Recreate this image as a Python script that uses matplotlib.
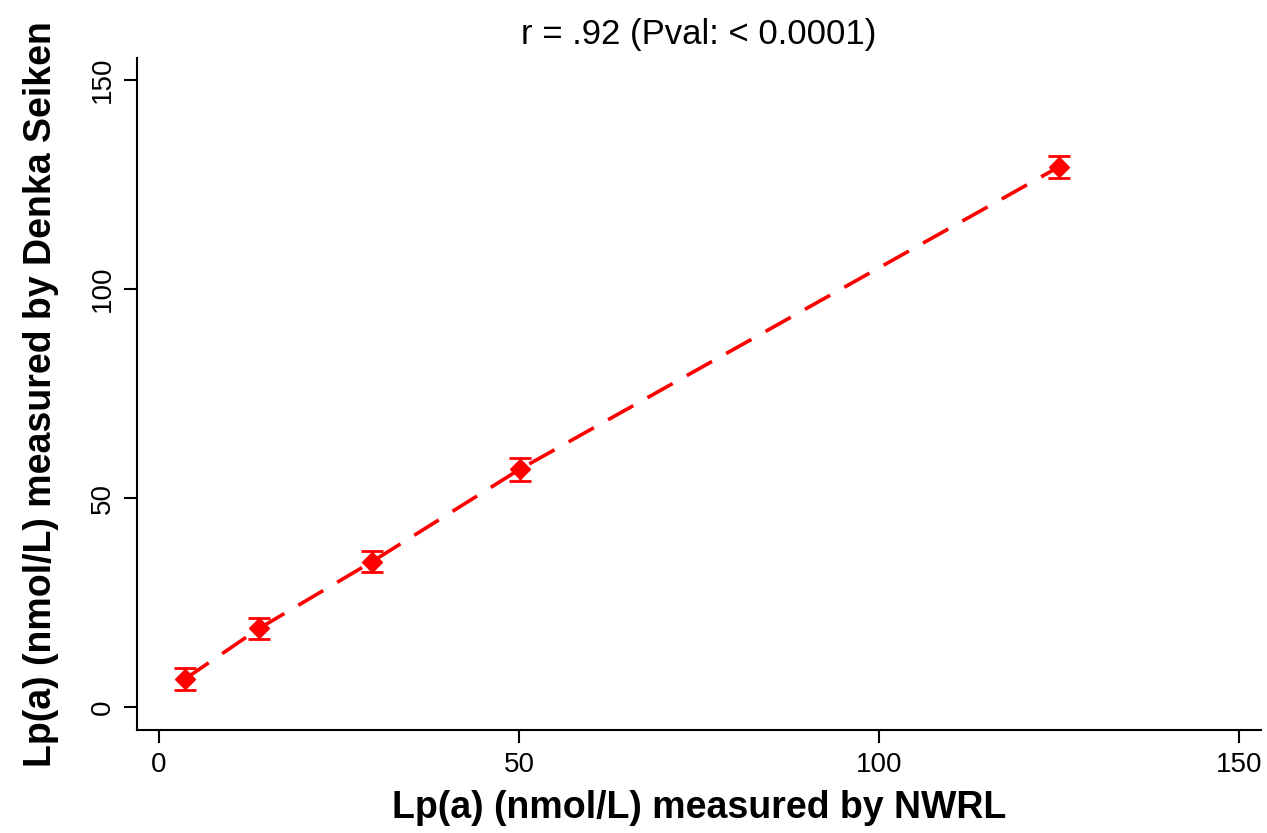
import matplotlib
matplotlib.use("Agg")
import matplotlib.pyplot as plt

plt.rcParams['font.family'] = ['Liberation Sans', 'DejaVu Sans']

# values
nwrl = [3.6, 13.9, 29.6, 50.1, 124.9]
denka = [6.7, 18.8, 34.8, 56.9, 129.2]
denka_err = [2.6, 2.6, 2.6, 2.7, 2.6]
ticks = [0, 50, 100, 150]

fig = plt.figure(figsize=(12.67, 8.33), dpi=100)
ax = fig.add_axes([0.1081, 0.1236, 0.8872, 0.8068])

ax.errorbar(nwrl, denka, yerr=denka_err, color='red', fmt='D', markersize=10,
            elinewidth=2, capsize=8, capthick=2, zorder=3)
ax.plot(nwrl, denka, color='red', linestyle=(0, (8, 4.5)), linewidth=2.6, zorder=2)

ax.set_xlim(-3.05, 153.0)
ax.set_ylim(-5.5, 155.3)
ax.set_xticks(ticks)
ax.set_yticks(ticks)

for s in ['top', 'right']:
    ax.spines[s].set_visible(False)
for s in ['left', 'bottom']:
    ax.spines[s].set_linewidth(1.5)

ax.tick_params(axis='both', direction='out', length=9.5, width=1.5, labelsize=20, pad=6)
for lab in ax.get_yticklabels():
    lab.set_rotation(90)
    lab.set_va('center')

ax.set_xlabel('Lp(a) (nmol/L) measured by NWRL', fontsize=27, fontweight='bold', labelpad=9)
ax.set_ylabel('Lp(a) (nmol/L) measured by Denka Seiken', fontsize=27, fontweight='bold', labelpad=22)
ax.set_title('r = .92 (Pval: < 0.0001)', fontsize=25, pad=10)

fig.savefig('out.png', dpi=100)
